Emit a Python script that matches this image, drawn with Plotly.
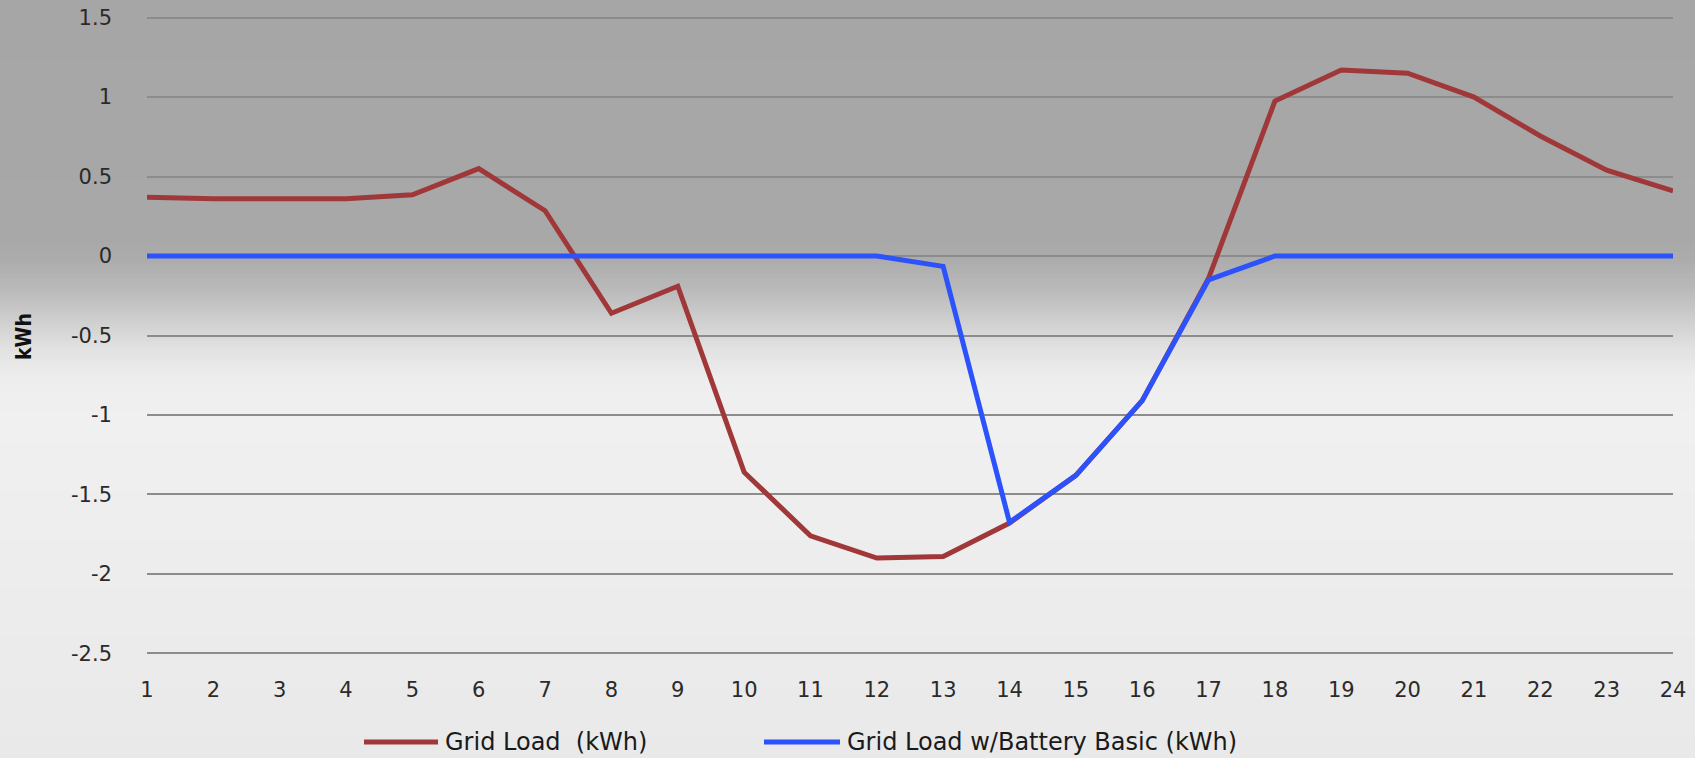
import plotly.graph_objects as go

# Hour of day
hours = list(range(1, 25))

# Grid load without battery (kWh)
grid_load = [0.37, 0.36, 0.36, 0.36, 0.385, 0.55, 0.285, -0.36, -0.19, -1.36, -1.76, -1.90,
             -1.89, -1.68, -1.38, -0.91, -0.14, 0.975, 1.17, 1.15, 1.0, 0.755, 0.54, 0.41]

# Grid load with basic battery (kWh)
grid_load_batt = [0, 0, 0, 0, 0, 0, 0, 0, 0, 0, 0, 0,
                  -0.065, -1.675, -1.38, -0.91, -0.15, 0, 0, 0, 0, 0, 0, 0]

series_names = ["Grid Load \u00a0(kWh)", "Grid Load w/Battery Basic (kWh)"]
series_colors = ["#a0383a", "#2b52fb"]

y_ticks = [1.5, 1, 0.5, 0, -0.5, -1, -1.5, -2, -2.5]
y_tick_text = ["1.5", "1", "0.5", "0", "-0.5", "-1", "-1.5", "-2", "-2.5"]

W, H = 1695, 758
Y_MIN, Y_MAX = -2.5, 1.5
PAD = 0.01  # small headroom so the outer gridlines are drawn
PX_TOP, PX_BOT = 18, 653  # pixel rows of the 1.5 and -2.5 gridlines
px_per_unit = (PX_BOT - PX_TOP) / (Y_MAX - Y_MIN)
M_L, M_R = 147, 22
M_T = round(PX_TOP - PAD * px_per_unit)
M_B = round(H - PX_BOT - PAD * px_per_unit)
PLOT_H = H - M_T - M_B
PLOT_W = W - M_L - M_R

# Vertical background gradient: (pixel row from top, grey level)
grad_stops = [(0, 166), (240, 168), (260, 172), (290, 186), (320, 206),
              (350, 226), (380, 238), (420, 240), (758, 233)]


def grey_at(py):
    for (a, ga), (b, gb) in zip(grad_stops, grad_stops[1:]):
        if a <= py <= b:
            t = (py - a) / (b - a) if b > a else 0
            return round(ga + (gb - ga) * t)
    return grad_stops[-1][1]


def to_paper(py):
    return (H - M_B - py) / PLOT_H


def to_paper_x(px):
    return (px - M_L) / PLOT_W


shapes = []
step = 3
for py in range(0, H, step):
    g = grey_at(py + step / 2)
    shapes.append(dict(
        type="rect", xref="paper", yref="paper",
        x0=-M_L / PLOT_W - 0.01, x1=1 + M_R / PLOT_W + 0.01,
        y0=to_paper(py + step + 0.5), y1=to_paper(py),
        fillcolor=f"rgb({g},{g},{g})", line=dict(width=0), layer="below",
    ))

fig = go.Figure()
for name, vals, col in zip(series_names, [grid_load, grid_load_batt], series_colors):
    fig.add_trace(go.Scatter(
        x=hours, y=vals, mode="lines", name=name,
        line=dict(color=col, width=5), showlegend=False,
    ))

# Legend row below the axis: long swatch followed by the series name
LEGEND_Y = to_paper(742)
legend_slots = [(364, 438, 443), (764, 840, 845)]  # swatch start, swatch end, text start (px)
annotations = []
for (s0, s1, tx), name, col in zip(legend_slots, series_names, series_colors):
    shapes.append(dict(
        type="line", xref="paper", yref="paper",
        x0=to_paper_x(s0), x1=to_paper_x(s1), y0=LEGEND_Y, y1=LEGEND_Y,
        line=dict(color=col, width=5),
    ))
    annotations.append(dict(
        text=name, xref="paper", yref="paper", x=to_paper_x(tx), y=LEGEND_Y,
        xanchor="left", yanchor="middle", showarrow=False,
        font=dict(family="DejaVu Sans, sans-serif", size=24, color="#1a1a1a"),
    ))

annotations.append(dict(
    text="<b>kWh</b>", xref="paper", yref="paper",
    x=to_paper_x(24), y=to_paper(337),
    xanchor="center", yanchor="middle", textangle=-90, showarrow=False,
    font=dict(family="DejaVu Sans Condensed, sans-serif", size=21, color="#111111"),
))

tick_font = dict(family="DejaVu Sans", size=21, color="#2a2a2a")

fig.update_layout(
    width=W, height=H,
    margin=dict(l=M_L, r=M_R, t=M_T, b=M_B, autoexpand=False),
    paper_bgcolor="rgb(235,235,235)",
    plot_bgcolor="rgba(0,0,0,0)",
    shapes=shapes,
    showlegend=False,
    xaxis=dict(
        range=[1, 24], tickmode="array", tickvals=hours,
        showgrid=False, zeroline=False, showline=False,
        ticks="", tickfont=tick_font, ticklabelstandoff=20,
    ),
    yaxis=dict(
        range=[Y_MIN - PAD, Y_MAX + PAD], tickmode="array", tickvals=y_ticks, ticktext=y_tick_text,
        showgrid=True, gridcolor="#8c8c8c", gridwidth=1.5,
        zeroline=False, showline=False, ticks="",
        tickfont=tick_font, ticklabelstandoff=34,
    ),
    annotations=annotations,
)

fig.write_html("out.html")
